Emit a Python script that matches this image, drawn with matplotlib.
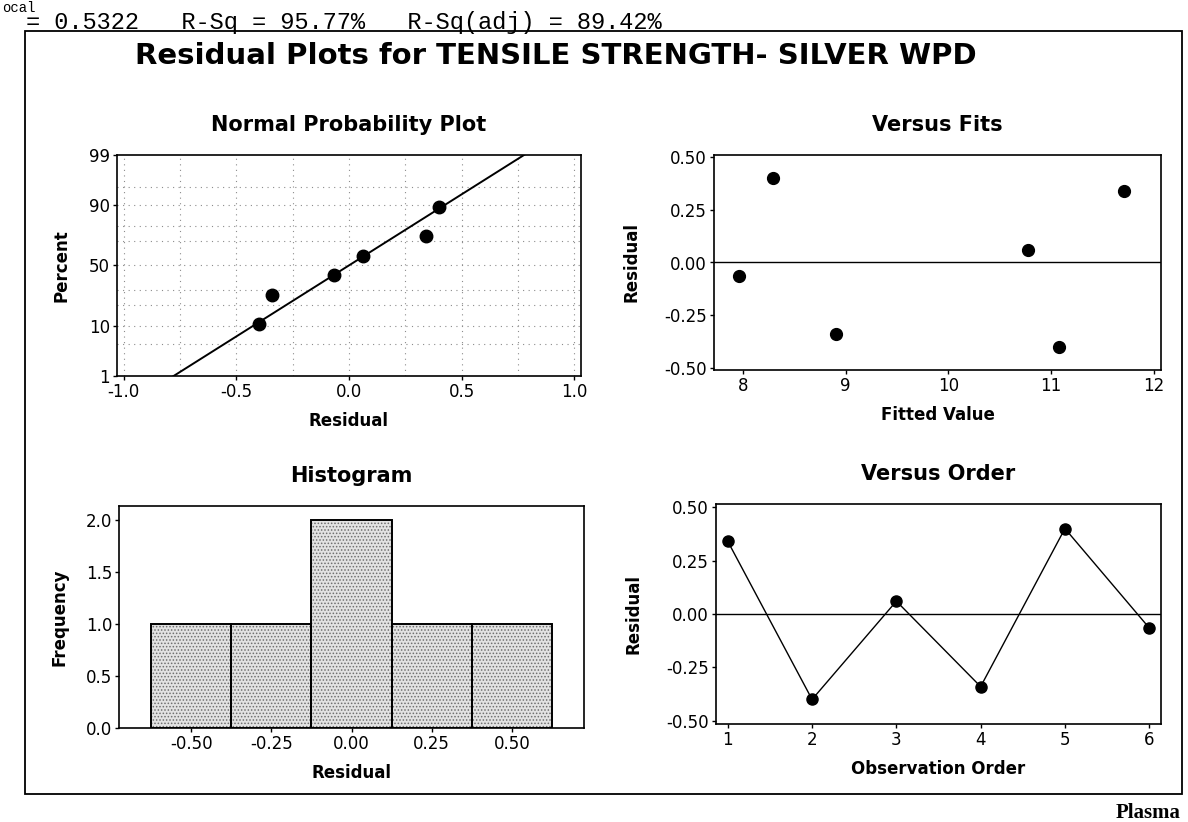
import math
import numpy as np
import matplotlib
matplotlib.use("Agg")
import matplotlib.pyplot as plt
from matplotlib.patches import Rectangle

observation = [1, 2, 3, 4, 5, 6]
residual = [0.34, -0.40, 0.06, -0.34, 0.40, -0.065]
fitted = [11.71, 11.08, 10.78, 8.91, 8.29, 7.96]
prob_percent = [10.9, 26.6, 42.2, 57.8, 73.4, 89.1]  # plotting positions of sorted residuals
hist_edges = [-0.625, -0.375, -0.125, 0.125, 0.375, 0.625]

summary_text = "= 0.5322   R-Sq = 95.77%   R-Sq(adj) = 89.42%"
main_title = "Residual Plots for TENSILE STRENGTH- SILVER WPD"

W, H = 1188, 822

plt.rcParams["font.family"] = "DejaVu Sans"
plt.rcParams["axes.unicode_minus"] = False
plt.rcParams["hatch.linewidth"] = 0.7


def norm_ppf(p):
    # Acklam's rational approximation of the normal quantile
    p = np.clip(np.asarray(p, dtype=float), 1e-9, 1 - 1e-9)
    a = [-3.969683028665376e+01, 2.209460984245205e+02, -2.759285104469687e+02,
         1.383577518672690e+02, -3.066479806614716e+01, 2.506628277459239e+00]
    b = [-5.447609879822406e+01, 1.615858368580409e+02, -1.556989798598866e+02,
         6.680131188771972e+01, -1.328068155288572e+01]
    c = [-7.784894002430293e-03, -3.223964580411365e-01, -2.400758277161838e+00,
         -2.549732539343734e+00, 4.374664141464968e+00, 2.938163982698783e+00]
    d = [7.784695709041462e-03, 3.224671290700398e-01, 2.445134137142996e+00,
         3.754408661907416e+00]
    plow = 0.02425

    q = p - 0.5
    r = q * q
    central = (((((a[0]*r + a[1])*r + a[2])*r + a[3])*r + a[4])*r + a[5]) * q / \
              (((((b[0]*r + b[1])*r + b[2])*r + b[3])*r + b[4])*r + 1)

    ql = np.sqrt(-2 * np.log(p))
    low = (((((c[0]*ql + c[1])*ql + c[2])*ql + c[3])*ql + c[4])*ql + c[5]) / \
          ((((d[0]*ql + d[1])*ql + d[2])*ql + d[3])*ql + 1)

    qu = np.sqrt(-2 * np.log(1 - p))
    high = -(((((c[0]*qu + c[1])*qu + c[2])*qu + c[3])*qu + c[4])*qu + c[5]) / \
           ((((d[0]*qu + d[1])*qu + d[2])*qu + d[3])*qu + 1)

    return np.where(p < plow, low, np.where(p > 1 - plow, high, central))


_erf = np.vectorize(math.erf)


def pct_forward(v):
    return norm_ppf(np.asarray(v, dtype=float) / 100.0)


def pct_inverse(z):
    return 50.0 * (1 + _erf(np.asarray(z, dtype=float) / math.sqrt(2)))


def px_axes(left, top, right, bottom):
    return fig.add_axes([left / W, 1 - bottom / H, (right - left) / W, (bottom - top) / H])


def style_axes(ax, title, xlabel, ylabel, ylab_px, box):
    left, top, right, bottom = box
    for s in ax.spines.values():
        s.set_linewidth(1.2)
        s.set_color("black")
    ax.tick_params(direction="out", length=3, width=1, labelsize=12, pad=2,
                   top=False, right=False)
    ax.set_title(title, fontsize=15, fontweight="bold", pad=17)
    ax.set_xlabel(xlabel, fontsize=12, fontweight="bold", va="center")
    ax.set_ylabel(ylabel, fontsize=12, fontweight="bold", va="center")
    ax.xaxis.set_label_coords(0.5, -45 / (bottom - top))
    ax.yaxis.set_label_coords(-ylab_px / (right - left), 0.5)


fig = plt.figure(figsize=(W / 100, H / 100), dpi=100)

# page texts and outer graph frame
fig.text(2 / W, 1 - 1 / H, "ocal", family="Liberation Mono", fontsize=10, va="top")
fig.text(26 / W, 1 - 29 / H, summary_text, family="Liberation Mono", fontsize=17, va="baseline")
fig.patches.append(Rectangle((25 / W, 1 - 794 / H), (1182 - 25) / W, (794 - 31) / H,
                             transform=fig.transFigure, fill=False, lw=1.3, ec="black"))
fig.text(556 / W, 1 - 64 / H, main_title, ha="center", va="baseline",
         fontsize=21, fontweight="bold")
fig.text(1180 / W, 1 - 818 / H, "Plasma", family="Liberation Serif", fontsize=15,
         fontweight="bold", ha="right", va="baseline")

# Normal probability plot
box_npp = (117, 155, 581, 376)
ax1 = px_axes(*box_npp)
ax1.set_yscale("function", functions=(pct_forward, pct_inverse))
ax1.set_xlim(-1.03, 1.03)
ax1.set_ylim(1, 99)
for gx in np.arange(-1.0, 1.01, 0.25):
    ax1.axvline(gx, color="#8c8c8c", lw=0.8, ls=(0, (1, 4)), zorder=0)
for gy in [5, 10, 20, 30, 50, 70, 80, 90, 95]:
    ax1.axhline(gy, color="#8c8c8c", lw=0.8, ls=(0, (1, 4)), zorder=0)
mu = np.mean(residual)
sd = np.std(residual, ddof=1)
p_line = np.linspace(0.3, 99.7, 200)
ax1.plot(mu + sd * pct_forward(p_line), p_line, color="black", lw=1.4)
ax1.plot(np.sort(residual), prob_percent, "o", color="black", ms=9)
ax1.set_xticks([-1.0, -0.5, 0.0, 0.5, 1.0])
ax1.set_xticklabels(["-1.0", "-0.5", "0.0", "0.5", "1.0"])
ax1.set_yticks([1, 10, 50, 90, 99])
ax1.set_yticklabels(["1", "10", "50", "90", "99"])
ax1.minorticks_off()
style_axes(ax1, "Normal Probability Plot", "Residual", "Percent", 56, box_npp)

# Versus fits
box_fit = (714, 155, 1161, 370)
ax2 = px_axes(*box_fit)
ax2.axhline(0, color="black", lw=1.0)
ax2.plot(fitted, residual, "o", color="black", ms=8.5)
ax2.set_xlim(7.72, 12.07)
ax2.set_ylim(-0.51, 0.51)
ax2.set_xticks([8, 9, 10, 11, 12])
ax2.set_yticks([-0.5, -0.25, 0.0, 0.25, 0.5])
ax2.set_yticklabels(["-0.50", "-0.25", "0.00", "0.25", "0.50"])
style_axes(ax2, "Versus Fits", "Fitted Value", "Residual", 82, box_fit)

# Histogram
box_hist = (119, 506, 584, 728)
ax3 = px_axes(*box_hist)
ax3.hist(residual, bins=hist_edges, facecolor="#e2e2e2", edgecolor="#6e6e6e",
         hatch=".....", lw=0, zorder=1)
ax3.hist(residual, bins=hist_edges, histtype="bar", fill=False, edgecolor="black",
         lw=1.4, zorder=2)
ax3.set_xlim(-0.725, 0.725)
ax3.set_ylim(0, 2.13)
ax3.set_xticks([-0.5, -0.25, 0.0, 0.25, 0.5])
ax3.set_xticklabels(["-0.50", "-0.25", "0.00", "0.25", "0.50"])
ax3.set_yticks([0, 0.5, 1.0, 1.5, 2.0])
ax3.set_yticklabels(["0.0", "0.5", "1.0", "1.5", "2.0"])
style_axes(ax3, "Histogram", "Residual", "Frequency", 60, box_hist)

# Versus order
box_ord = (716, 504, 1161, 724)
ax4 = px_axes(*box_ord)
ax4.axhline(0, color="black", lw=1.0)
ax4.plot(observation, residual, "-o", color="black", lw=1.0, ms=8)
ax4.set_xlim(0.86, 6.14)
ax4.set_ylim(-0.515, 0.515)
ax4.set_xticks(observation)
ax4.set_yticks([-0.5, -0.25, 0.0, 0.25, 0.5])
ax4.set_yticklabels(["-0.50", "-0.25", "0.00", "0.25", "0.50"])
style_axes(ax4, "Versus Order", "Observation Order", "Residual", 82, box_ord)

fig.savefig("out.png", dpi=100, facecolor="white")
